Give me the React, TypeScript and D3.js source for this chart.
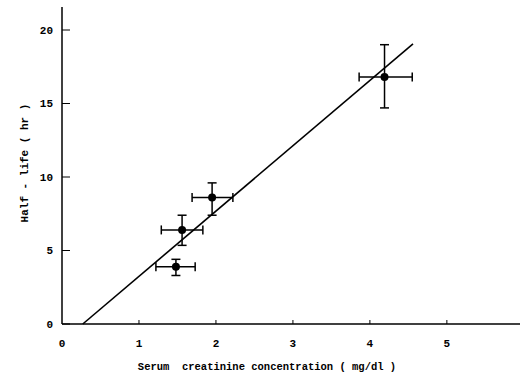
import React, { useEffect, useRef } from 'react';
import * as d3 from 'd3';

// measured points (mean with error range)
const creatinine = [1.48, 1.56, 1.95, 4.19];
const creatinineLow = [1.22, 1.29, 1.69, 3.86];
const creatinineHigh = [1.73, 1.83, 2.22, 4.55];
const halfLife = [3.9, 6.4, 8.6, 16.8];
const halfLifeLow = [3.3, 5.35, 7.4, 14.7];
const halfLifeHigh = [4.4, 7.4, 9.6, 19.0];

// regression line end points
const lineX = [0.27, 4.56];
const lineY = [0, 19.05];

const xTicks = [0, 1, 2, 3, 4, 5];
const yTicks = [0, 5, 10, 15, 20];

const App = () => {
  const ref = useRef<SVGSVGElement | null>(null);

  useEffect(() => {
    drawChart();
  }, []);

  const drawChart = () => {
    const svg = d3.select(ref.current);
    svg.selectAll("*").remove();

    const font = "'Liberation Mono', 'DejaVu Sans Mono', monospace";

    const xScale = d3.scaleLinear().domain([0, 5.95]).range([62, 520]);
    const yScale = d3.scaleLinear().domain([0, 20]).range([324, 30]);

    // axes
    svg.append("line")
      .attr("x1", xScale(0)).attr("x2", xScale(5.95))
      .attr("y1", yScale(0)).attr("y2", yScale(0))
      .style("stroke", "#000").style("stroke-width", 1.5);
    svg.append("line")
      .attr("x1", xScale(0)).attr("x2", xScale(0))
      .attr("y1", yScale(0)).attr("y2", 7)
      .style("stroke", "#000").style("stroke-width", 1.5);

    // y ticks point inward
    yTicks.forEach(t => {
      svg.append("line")
        .attr("x1", xScale(0)).attr("x2", xScale(0) + 8)
        .attr("y1", yScale(t)).attr("y2", yScale(t))
        .style("stroke", "#000").style("stroke-width", 1);
      svg.append("text")
        .attr("x", 53).attr("y", yScale(t))
        .attr("dy", "0.35em")
        .attr("text-anchor", "end")
        .style("font-family", font).style("font-weight", "bold").style("font-size", "11px")
        .text(t);
    });

    xTicks.forEach(t => {
      if (t > 0) {
        svg.append("line")
          .attr("x1", xScale(t)).attr("x2", xScale(t))
          .attr("y1", yScale(0)).attr("y2", yScale(0) - 4)
          .style("stroke", "#000").style("stroke-width", 1);
      }
      svg.append("text")
        .attr("x", xScale(t)).attr("y", 347)
        .attr("text-anchor", "middle")
        .style("font-family", font).style("font-weight", "bold").style("font-size", "11px")
        .text(t);
    });

    // axis titles
    svg.append("text")
      .attr("x", 267).attr("y", 370)
      .attr("text-anchor", "middle")
      .style("font-family", font).style("font-weight", "bold").style("font-size", "10.5px")
      .style("white-space", "pre")
      .text("Serum  creatinine concentration ( mg/dl )");

    svg.append("text")
      .attr("transform", "translate(28,163) rotate(-90)")
      .attr("text-anchor", "middle")
      .style("font-family", font).style("font-weight", "bold").style("font-size", "11px")
      .text("Half - life ( hr )");

    // regression line
    const line = d3.line<number>()
      .x((d, i) => xScale(lineX[i]))
      .y(d => yScale(d));
    svg.append("path")
      .datum(lineY)
      .attr("d", line)
      .style("fill", "none")
      .style("stroke", "#000")
      .style("stroke-width", 1.6);

    // error bars and points
    const cap = 4.5;
    creatinine.forEach((x, i) => {
      const cx = xScale(x);
      const cy = yScale(halfLife[i]);
      const g = svg.append("g").style("stroke", "#000").style("stroke-width", 1.5);
      g.append("line")
        .attr("x1", xScale(creatinineLow[i])).attr("x2", xScale(creatinineHigh[i]))
        .attr("y1", cy).attr("y2", cy);
      g.append("line")
        .attr("x1", xScale(creatinineLow[i])).attr("x2", xScale(creatinineLow[i]))
        .attr("y1", cy - cap).attr("y2", cy + cap);
      g.append("line")
        .attr("x1", xScale(creatinineHigh[i])).attr("x2", xScale(creatinineHigh[i]))
        .attr("y1", cy - cap).attr("y2", cy + cap);
      g.append("line")
        .attr("x1", cx).attr("x2", cx)
        .attr("y1", yScale(halfLifeLow[i])).attr("y2", yScale(halfLifeHigh[i]));
      g.append("line")
        .attr("x1", cx - cap).attr("x2", cx + cap)
        .attr("y1", yScale(halfLifeLow[i])).attr("y2", yScale(halfLifeLow[i]));
      g.append("line")
        .attr("x1", cx - cap).attr("x2", cx + cap)
        .attr("y1", yScale(halfLifeHigh[i])).attr("y2", yScale(halfLifeHigh[i]));
      svg.append("circle")
        .attr("cx", cx).attr("cy", cy).attr("r", 4)
        .style("fill", "#000");
    });
  };

  return (
    <svg
      ref={ref}
      width={524}
      height={376}
      style={{ position: "absolute", left: 0, top: 0, background: "#fff" }}
    />
  );
};

export default App;
